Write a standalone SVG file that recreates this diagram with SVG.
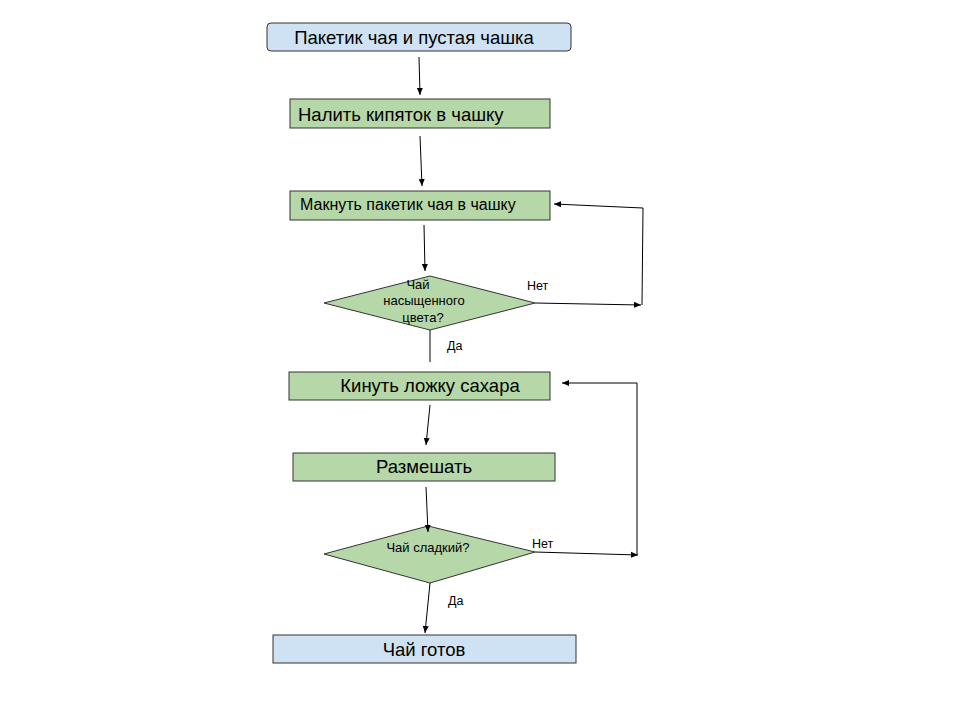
<svg xmlns="http://www.w3.org/2000/svg" width="960" height="720" viewBox="0 0 960 720">
<defs>
<marker id="ah" markerWidth="8" markerHeight="8" refX="7" refY="4" orient="auto" markerUnits="userSpaceOnUse">
<path d="M0,1 L7,4 L0,7 Z" fill="#000"/>
</marker>
<style>
.b{fill:#cfe2f3;stroke:#333;stroke-width:1}
.g{fill:#b6d7a8;stroke:#333;stroke-width:1}
.t{font-family:"Liberation Sans",Arial,sans-serif;fill:#000}
.l{font-size:18.5px}
.m{font-size:16px}
.s{font-size:13px}
.x{font-size:12.5px}
.c{stroke:#000;stroke-width:1;fill:none}
.a{marker-end:url(#ah)}
</style>
</defs>
<rect width="960" height="720" fill="#fff"/>
<g id="n1"><rect class="b" x="267" y="23" width="304" height="28" rx="4"/><text class="t l" x="414" y="44" text-anchor="middle">Пакетик чая и пустая чашка</text></g>
<g id="n2"><rect class="g" x="290" y="99" width="260" height="29"/><text class="t l" x="298" y="121">Налить кипяток в чашку</text></g>
<g id="n3"><rect class="g" x="290" y="191" width="260" height="29"/><text class="t m" x="300" y="210">Макнуть пакетик чая в чашку</text></g>
<g id="d1"><polygon class="g" points="430,276 535,303 430,330 324,303"/><text class="t s" text-anchor="middle"><tspan x="418" y="289">Чай</tspan><tspan x="424" y="305">насыщенного</tspan><tspan x="423" y="322">цвета?</tspan></text></g>
<g id="n4"><rect class="g" x="289" y="372" width="261" height="28"/><text class="t l" x="430" y="392" text-anchor="middle">Кинуть ложку сахара</text></g>
<g id="n5"><rect class="g" x="293" y="453" width="262" height="28"/><text class="t l" x="424" y="473" text-anchor="middle">Размешать</text></g>
<g id="d2"><polygon class="g" points="428,526 535,552 430,583 324,554"/><text class="t s" x="428" y="552" text-anchor="middle">Чай сладкий?</text></g>
<g id="n6"><rect class="b" x="273" y="635" width="303" height="28"/><text class="t l" x="424" y="656" text-anchor="middle">Чай готов</text></g>
<g id="connectors">
<line class="c a" x1="419" y1="57" x2="420" y2="95"/>
<line class="c a" x1="420" y1="136" x2="422" y2="186"/>
<line class="c a" x1="424" y1="225" x2="425" y2="271"/>
<line class="c a" x1="535" y1="303" x2="641" y2="305"/>
<polyline class="c" points="642,305 643,208"/>
<line class="c a" x1="643" y1="208" x2="554" y2="204"/>
<line class="c" x1="430" y1="330" x2="430" y2="362"/>
<line class="c a" x1="430" y1="405" x2="426" y2="445"/>
<line class="c a" x1="426" y1="487" x2="428" y2="532"/>
<line class="c a" x1="535" y1="552" x2="638" y2="555"/>
<polyline class="c" points="637,555 637,383"/>
<line class="c a" x1="637" y1="383" x2="562" y2="383"/>
<line class="c a" x1="430" y1="583" x2="425" y2="633"/>
<text class="t x" x="527" y="290">Нет</text>
<text class="t x" x="447" y="350">Да</text>
<text class="t x" x="532" y="548">Нет</text>
<text class="t x" x="448" y="605">Да</text>
</g>
</svg>
